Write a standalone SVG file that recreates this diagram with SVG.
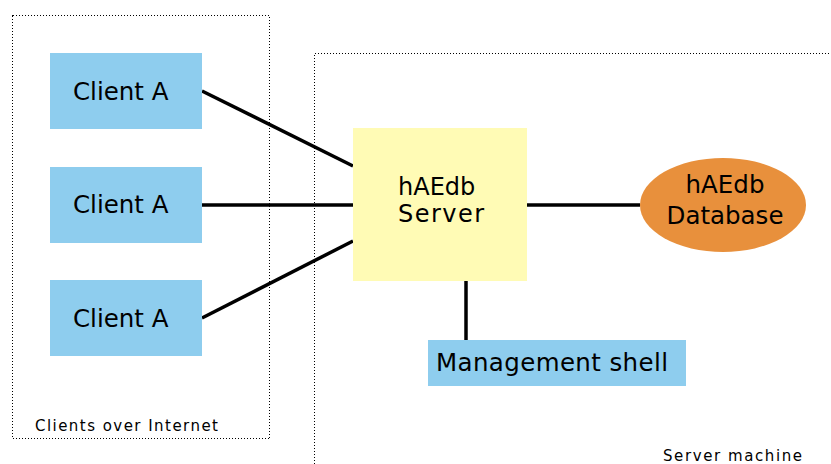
<svg xmlns="http://www.w3.org/2000/svg" width="831" height="464" viewBox="0 0 831 464">
<style>
.frame{fill:none;stroke:#000;stroke-width:1;stroke-dasharray:1 2;shape-rendering:crispEdges}
.client{fill:#8ecdee}
.lbl{font-family:"DejaVu Sans",sans-serif;font-size:24.5px;fill:#000}
.small{font-family:"DejaVu Sans",sans-serif;font-size:15px;fill:#000}
.conn{stroke:#000;stroke-width:3.5;fill:none}
</style>
<rect width="831" height="464" fill="#fff"/>
<g id="frames">
<rect class="frame" x="12.5" y="15.5" width="257" height="423"/>
<path class="frame" d="M314.5 470 V53.5 H840"/>
<text class="small" x="35" y="431" textLength="183" lengthAdjust="spacing">Clients over Internet</text>
<text class="small" x="663" y="461" textLength="139" lengthAdjust="spacing">Server machine</text>
</g>
<g id="connectors">
<line class="conn" x1="202" y1="91" x2="353" y2="166"/>
<line class="conn" x1="202" y1="205" x2="353" y2="205"/>
<line class="conn" x1="202" y1="318" x2="353" y2="241"/>
<line class="conn" x1="527" y1="205" x2="640" y2="205"/>
<line class="conn" x1="466" y1="281" x2="466" y2="340"/>
</g>
<g id="clientA1">
<rect class="client" x="50" y="53" width="152" height="76"/>
<text class="lbl" x="73" y="100">Client A</text>
</g>
<g id="clientA2">
<rect class="client" x="50" y="167" width="152" height="76"/>
<text class="lbl" x="73" y="213">Client A</text>
</g>
<g id="clientA3">
<rect class="client" x="50" y="280" width="152" height="76"/>
<text class="lbl" x="73" y="327">Client A</text>
</g>
<g id="server">
<rect x="353" y="128" width="174" height="153" fill="#fffbb5"/>
<text class="lbl" x="398" y="195" style="font-size:24px">hAEdb</text>
<text class="lbl" x="398" y="222" style="font-size:24px" textLength="86" lengthAdjust="spacing">Server</text>
</g>
<g id="database">
<ellipse cx="723" cy="205" rx="83" ry="47" fill="#e8903c"/>
<text class="lbl" x="725" y="193" text-anchor="middle">hAEdb</text>
<text class="lbl" x="725" y="224" text-anchor="middle">Database</text>
</g>
<g id="shell">
<rect class="client" x="428" y="340" width="258" height="46"/>
<text class="lbl" x="436" y="371" textLength="232" lengthAdjust="spacing">Management shell</text>
</g>
</svg>
